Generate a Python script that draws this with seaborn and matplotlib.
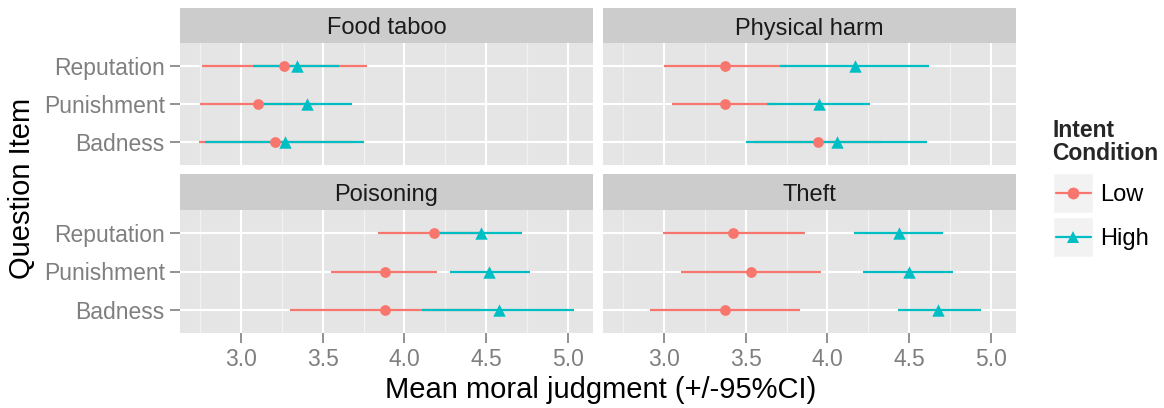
import matplotlib
matplotlib.use("Agg")
import matplotlib.pyplot as plt
from matplotlib.patches import Rectangle
from matplotlib.lines import Line2D
import seaborn as sns
import pandas as pd
import numpy as np

sns.set_theme(style="white")
plt.rcParams['font.family'] = ['Liberation Sans', 'DejaVu Sans']

# ---------------- data ----------------
facets = ["Food taboo", "Physical harm", "Poisoning", "Theft"]
items = ["Reputation", "Punishment", "Badness"]
conditions = ["Low", "High"]

# mean, lower, upper per facet (rows follow `items` order)
low_mean = {"Food taboo": [3.26, 3.10, 3.21], "Physical harm": [3.37, 3.37, 3.94],
            "Poisoning": [4.18, 3.88, 3.88], "Theft": [3.42, 3.53, 3.37]}
low_lo = {"Food taboo": [2.76, 2.75, 2.74], "Physical harm": [3.00, 3.05, 3.55],
          "Poisoning": [3.84, 3.55, 3.30], "Theft": [2.99, 3.10, 2.91]}
low_hi = {"Food taboo": [3.77, 3.45, 3.68], "Physical harm": [3.75, 3.68, 4.33],
          "Poisoning": [4.52, 4.20, 4.46], "Theft": [3.86, 3.96, 3.83]}
high_mean = {"Food taboo": [3.34, 3.40, 3.27], "Physical harm": [4.17, 3.95, 4.06],
             "Poisoning": [4.47, 4.52, 4.58], "Theft": [4.44, 4.50, 4.68]}
high_lo = {"Food taboo": [3.07, 3.13, 2.78], "Physical harm": [3.71, 3.63, 3.50],
           "Poisoning": [4.22, 4.28, 4.11], "Theft": [4.16, 4.22, 4.43]}
high_hi = {"Food taboo": [3.60, 3.68, 3.75], "Physical harm": [4.62, 4.26, 4.61],
           "Poisoning": [4.72, 4.77, 5.04], "Theft": [4.71, 4.77, 4.94]}

x_ticks = [3.0, 3.5, 4.0, 4.5, 5.0]
x_minor = [2.75, 3.25, 3.75, 4.25, 4.75]

rows = []
for f in facets:
    for cond, m, lo, hi in [("Low", low_mean, low_lo, low_hi), ("High", high_mean, high_lo, high_hi)]:
        for i, it in enumerate(items):
            rows.append(dict(facet=f, cond=cond, item=it, mean=m[f][i], lo=lo[f][i], hi=hi[f][i]))
df = pd.DataFrame(rows)
ypos = {"Badness": 1, "Punishment": 2, "Reputation": 3}
df["y"] = df["item"].map(ypos)

palette = {"Low": "#F8766D", "High": "#00BFC4"}
markers = {"Low": "o", "High": "^"}
sizes = {"Low": 60, "High": 80}

xmin = min(df["lo"].min(), df["mean"].min())
xmax = max(df["hi"].max(), df["mean"].max())
pad = (xmax - xmin) * 0.05
xlim = (xmin - pad, xmax + pad)

# ---------------- layout ----------------
W, H = 1164, 408
fig = plt.figure(figsize=(W / 100, H / 100), dpi=100)


def box(x0, y0, x1, y1):
    return [x0 / W, 1 - y1 / H, (x1 - x0) / W, (y1 - y0) / H]


cols = [(180, 593), (603, 1016)]
rows_px = [((8, 43), (43, 165)), ((174, 210), (210, 333))]

grey_text = "#7F7F7F"
for k, f in enumerate(facets):
    r, c = divmod(k, 2)
    (sy0, sy1), (py0, py1) = rows_px[r]
    x0, x1 = cols[c]
    # strip
    sax = fig.add_axes(box(x0, sy0, x1, sy1))
    sax.set_facecolor("#CCCCCC")
    sax.set_xticks([]); sax.set_yticks([])
    for s in sax.spines.values():
        s.set_visible(False)
    sax.text(0.5, 8.5 / (sy1 - sy0), f, ha="center", va="baseline", fontsize=17,
             color="#1A1A1A", transform=sax.transAxes)
    # panel
    ax = fig.add_axes(box(x0, py0, x1, py1))
    ax.set_facecolor("#E5E5E5")
    for s in ax.spines.values():
        s.set_visible(False)
    sub = df[df["facet"] == f]
    for v in x_minor:
        ax.axvline(v, color="#F2F2F2", lw=0.9, zorder=0.5)
    for v in x_ticks:
        ax.axvline(v, color="white", lw=1.5, zorder=0.6)
    for yv in ypos.values():
        ax.axhline(yv, color="white", lw=1.5, zorder=0.6)
    for cond in conditions:
        d = sub[sub["cond"] == cond]
        ax.hlines(d["y"], d["lo"], d["hi"], color=palette[cond], lw=1.6, zorder=2)
    for cond in conditions:
        d = sub[sub["cond"] == cond]
        sns.scatterplot(data=d, x="mean", y="y", color=palette[cond], marker=markers[cond],
                        s=sizes[cond], linewidth=0, legend=False, ax=ax, zorder=3)
    ax.set_xlim(*xlim)
    ax.set_ylim(0.4, 3.6)
    ax.set_xlabel(""); ax.set_ylabel("")
    ax.set_xticks(x_ticks)
    ax.set_yticks(list(ypos.values()))
    ax.tick_params(axis="both", length=7, width=1.2, color=grey_text, labelcolor=grey_text,
                   labelsize=16.5, pad=4, direction="out")
    if r == 1:
        ax.set_xticklabels([f"{v:.1f}" for v in x_ticks])
        ax.tick_params(axis="x", bottom=True)
    else:
        ax.tick_params(axis="x", bottom=False, labelbottom=False)
    if c == 0:
        ax.set_yticklabels(list(ypos.keys()))
        ax.tick_params(axis="y", left=True)
    else:
        ax.tick_params(axis="y", left=False, labelleft=False)

fig.text(601 / W, 1 - 398 / H, "Mean moral judgment (+/-95%CI)", ha="center", va="baseline",
         fontsize=21, color="black")
fig.text(22 / W, 1 - 188 / H, "Question Item", ha="center", va="center", rotation=90,
         fontsize=21, color="black")

# ---------------- legend ----------------
lax = fig.add_axes([0, 0, 1, 1], facecolor="none")
lax.set_xlim(0, W); lax.set_ylim(H, 0)
lax.axis("off")
lax.text(1052, 137, "Intent", ha="left", va="baseline", fontsize=16.5, fontweight="bold")
lax.text(1052, 160, "Condition", ha="left", va="baseline", fontsize=16.5, fontweight="bold")
for j, cond in enumerate(conditions):
    ky0 = 173 + j * 44
    lax.add_patch(Rectangle((1053, ky0), 40, 40, facecolor="#F2F2F2", edgecolor="white", lw=1))
    lax.add_line(Line2D([1056, 1091], [ky0 + 20, ky0 + 20], color=palette[cond], lw=1.6))
    lax.add_line(Line2D([1073], [ky0 + 20], marker=markers[cond], color=palette[cond],
                        markersize=8.5, markeredgewidth=0))
    lax.text(1100, ky0 + 28, cond, ha="left", va="baseline", fontsize=17, color="black")

fig.savefig("out.png", dpi=100)
